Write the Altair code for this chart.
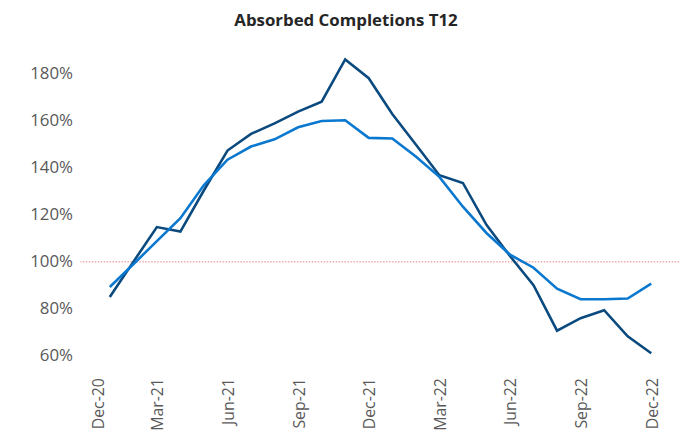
import altair as alt
import pandas as pd

months = ["Jan-21", "Feb-21", "Mar-21", "Apr-21", "May-21", "Jun-21", "Jul-21", "Aug-21",
          "Sep-21", "Oct-21", "Nov-21", "Dec-21", "Jan-22", "Feb-22", "Mar-22", "Apr-22",
          "May-22", "Jun-22", "Jul-22", "Aug-22", "Sep-22", "Oct-22", "Nov-22", "Dec-22"]
series_dark = [85.0, 100.0, 114.8, 112.9, 130.5, 147.4, 154.5, 159.0, 164.0, 168.2, 186.2, 178.2,
               163.0, 150.0, 136.9, 133.6, 115.8, 102.5, 90.1, 70.7, 76.0, 79.4, 68.3, 61.1]
series_light = [89.3, 99.0, 108.8, 118.6, 132.7, 143.5, 149.1, 152.2, 157.3, 160.0, 160.3, 152.8,
                152.5, 144.9, 136.2, 123.5, 112.3, 103.1, 97.5, 88.6, 84.1, 84.1, 84.4, 90.7]
tick_labels = ["Dec-20", "Mar-21", "Jun-21", "Sep-21", "Dec-21", "Mar-22", "Jun-22", "Sep-22", "Dec-22"]
reference_level = 100.0

rows = []
for i, m in enumerate(months):
    rows.append({"idx": i + 1, "month": m, "series": "A", "value": series_dark[i] / 100})
    rows.append({"idx": i + 1, "month": m, "series": "B", "value": series_light[i] / 100})
df = pd.DataFrame(rows)

tick_vals = [3 * k for k in range(len(tick_labels))]
label_map = "{" + ",".join(f"'{v}':'{l}'" for v, l in zip(tick_vals, tick_labels)) + "}"

FONT = "Open Sans"

x_enc = alt.X(
    "idx:Q",
    scale=alt.Scale(domain=[-0.25, 25.18], nice=False, zero=False),
    axis=alt.Axis(
        values=tick_vals,
        labelExpr=f"{label_map}[''+datum.value]",
        labelAngle=-90,
        labelAlign="right",
        labelBaseline="middle",
        labelPadding=22,
        labelFontSize=16,
        labelFont=FONT,
        labelColor="#595959",
        labelOffset={"condition": {"test": "datum.value == 0", "value": 12}, "value": 1},
        domain=False,
        ticks=False,
        grid=False,
        title=None,
    ),
)

y_scale = alt.Scale(domain=[0.6, 1.9], nice=False, zero=False)

lines = alt.Chart(df).mark_line(strokeWidth=2.6).encode(
    x=x_enc,
    y=alt.Y(
        "value:Q",
        scale=y_scale,
        axis=alt.Axis(
            values=[0.6, 0.8, 1.0, 1.2, 1.4, 1.6, 1.8],
            format=".0%",
            labelFontSize=17,
            labelFont=FONT,
            labelColor="#595959",
            labelPadding=8,
            domain=False,
            ticks=False,
            grid=False,
            title=None,
        ),
    ),
    color=alt.Color(
        "series:N",
        scale=alt.Scale(domain=["A", "B"], range=["#0B4A7E", "#0A78CF"]),
        legend=None,
    ),
    order=alt.Order("series:N", sort="descending"),
)

ref = alt.Chart(pd.DataFrame({"v": [reference_level / 100]})).mark_rule(
    color="#EE7F86", strokeWidth=1, strokeDash=[1.5, 1.5]
).encode(y=alt.Y("v:Q", scale=y_scale))

chart = alt.layer(ref, lines).properties(
    width=604,
    height=308,
    autosize=alt.AutoSizeParams(type="none"),
    padding={"left": 73, "top": 41, "right": 0, "bottom": 76},
    title=alt.TitleParams(
        "Absorbed Completions T12",
        font=FONT,
        fontSize=17,
        fontWeight="bold",
        color="#262626",
        anchor="middle",
        dx=-34,
        offset=21,
    ),
).configure_view(stroke=None)

chart.save("out.html", embed_options={"renderer": "svg", "actions": False})
